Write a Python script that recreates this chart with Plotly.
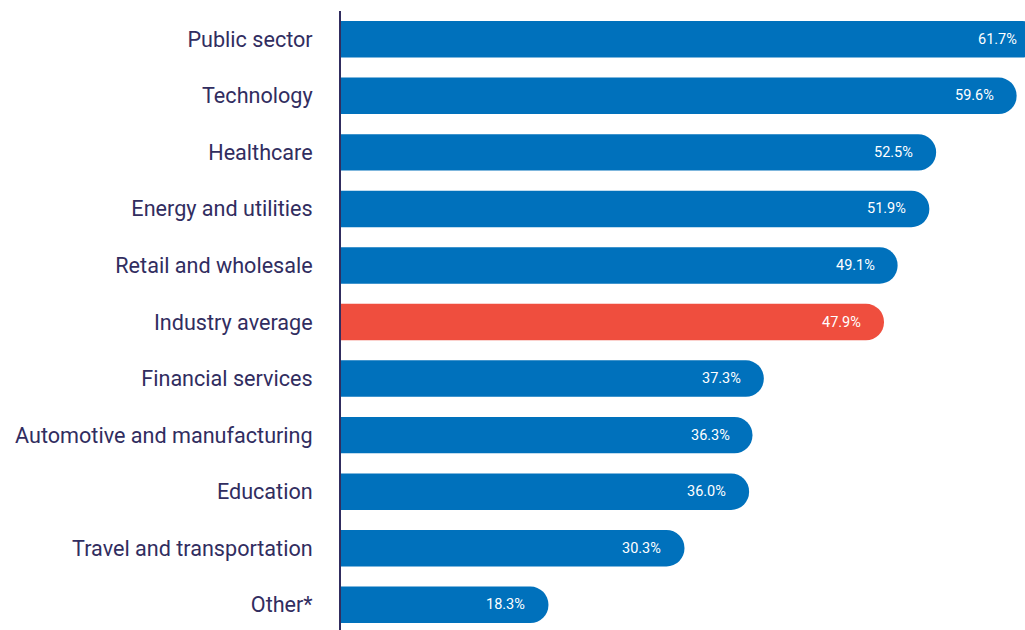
import plotly.graph_objects as go

categories = [
    "Public sector",
    "Technology",
    "Healthcare",
    "Energy and utilities",
    "Retail and wholesale",
    "Industry average",
    "Financial services",
    "Automotive and manufacturing",
    "Education",
    "Travel and transportation",
    "Other*",
]
values = [61.7, 59.6, 52.5, 51.9, 49.1, 47.9, 37.3, 36.3, 36.0, 30.3, 18.3]

BLUE = "#0071bc"
RED = "#ef4e3e"
NAVY = "#312d5f"
colors = [RED if c == "Industry average" else BLUE for c in categories]

fig = go.Figure(
    go.Bar(
        x=values,
        y=categories,
        orientation="h",
        marker=dict(color=colors, line=dict(width=0)),
        cliponaxis=True,
        hoverinfo="skip",
    )
)

for c, v in zip(categories, values):
    fig.add_annotation(
        x=v,
        y=c,
        xref="x",
        yref="y",
        text=f"{v:.1f}%",
        showarrow=False,
        xanchor="right",
        xshift=-21,
        font=dict(family="Roboto", size=14.5, color="white"),
    )

# The paper is slightly wider than the 1025px window, so the longest bar
# runs off the right edge as in the reference.
fig.update_layout(
    width=1041,
    height=630,
    margin=dict(l=341, r=0, t=11, b=0),
    paper_bgcolor="white",
    plot_bgcolor="white",
    bargap=0.355,
    barcornerradius=18,
    showlegend=False,
    font=dict(family="Roboto", color=NAVY),
)
fig.update_xaxes(
    range=[0, 61.75],
    visible=False,
    showgrid=False,
    zeroline=False,
)
fig.update_yaxes(
    range=[10.446, -0.5],
    showgrid=False,
    zeroline=False,
    showline=True,
    linecolor=NAVY,
    linewidth=2,
    ticks="",
    ticklabelstandoff=22,
    tickfont=dict(family="Roboto", size=21.6, color=NAVY),
)

fig.write_html(
    "out.html",
    config={"displayModeBar": False},
    post_script="document.body.style.margin='0px';document.body.style.overflow='hidden';",
)
